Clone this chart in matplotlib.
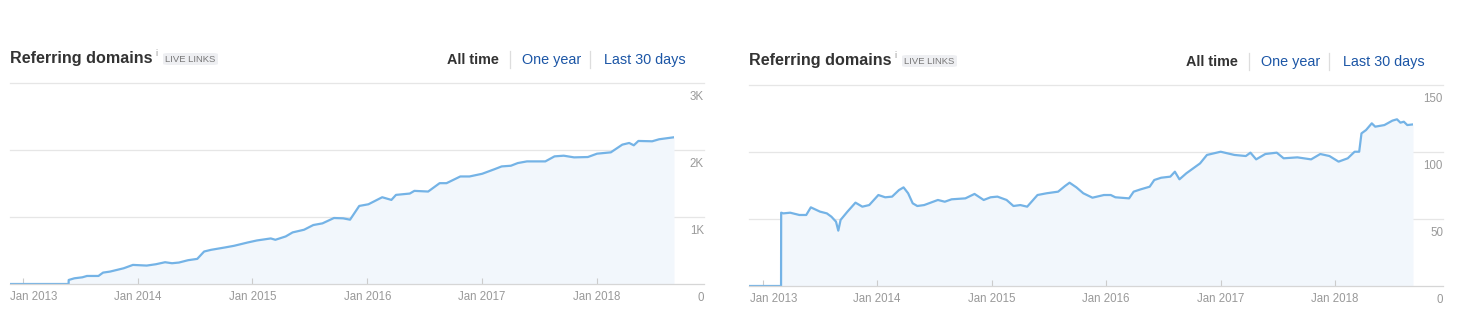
import numpy as np
import matplotlib
matplotlib.use('Agg')
import matplotlib.pyplot as plt
import matplotlib.transforms as mtransforms
from matplotlib.patches import FancyBboxPatch

plt.rcParams['font.family'] = ['Liberation Sans', 'DejaVu Sans']

# left chart: referring domains, all time (decimal year, count)
left_x = [2012.89, 2013.40, 2013.401, 2013.45, 2013.52, 2013.56, 2013.66, 2013.70, 2013.76,
          2013.88, 2013.96, 2014.08, 2014.16, 2014.24, 2014.30, 2014.36, 2014.44, 2014.52,
          2014.58, 2014.64, 2014.76, 2014.84, 2014.96, 2015.04, 2015.16, 2015.20, 2015.29,
          2015.35, 2015.45, 2015.53, 2015.61, 2015.71, 2015.79, 2015.85, 2015.93, 2016.01,
          2016.13, 2016.21, 2016.25, 2016.37, 2016.41, 2016.53, 2016.63, 2016.69, 2016.81,
          2016.89, 2017.00, 2017.11, 2017.17, 2017.25, 2017.31, 2017.39, 2017.55, 2017.63,
          2017.71, 2017.80, 2017.92, 2018.00, 2018.12, 2018.22, 2018.28, 2018.32, 2018.36,
          2018.48, 2018.54, 2018.67]
left_y = [0, 0, 60, 85, 100, 120, 120, 170, 185,
          235, 285, 275, 295, 325, 310, 320, 355, 375,
          485, 510, 545, 570, 620, 650, 680, 660, 710,
          770, 810, 880, 905, 985, 980, 960, 1165, 1190,
          1295, 1255, 1330, 1350, 1390, 1380, 1505, 1505, 1605,
          1605, 1645, 1715, 1755, 1765, 1805, 1830, 1830, 1905,
          1915, 1890, 1895, 1945, 1965, 2080, 2105, 2070, 2135,
          2130, 2160, 2190]

# right chart: referring domains, all time
right_x = [2012.88, 2013.16, 2013.161, 2013.18, 2013.24, 2013.32, 2013.38, 2013.42, 2013.50,
           2013.56, 2013.60, 2013.64, 2013.66, 2013.68, 2013.74, 2013.81, 2013.87, 2013.93,
           2014.01, 2014.07, 2014.13, 2014.19, 2014.23, 2014.27, 2014.31, 2014.35, 2014.41,
           2014.53, 2014.59, 2014.65, 2014.77, 2014.85, 2014.93, 2014.99, 2015.05, 2015.13,
           2015.19, 2015.25, 2015.31, 2015.40, 2015.48, 2015.58, 2015.64, 2015.68, 2015.74,
           2015.80, 2015.88, 2015.98, 2016.04, 2016.08, 2016.20, 2016.24, 2016.30, 2016.38,
           2016.42, 2016.48, 2016.56, 2016.60, 2016.64, 2016.70, 2016.76, 2016.82, 2016.88,
           2017.00, 2017.12, 2017.22, 2017.26, 2017.31, 2017.39, 2017.49, 2017.55, 2017.67,
           2017.79, 2017.87, 2017.95, 2018.03, 2018.11, 2018.17, 2018.21, 2018.23, 2018.27,
           2018.32, 2018.35, 2018.43, 2018.50, 2018.54, 2018.57, 2018.60, 2018.63, 2018.68]
right_y = [0, 0, 54.7, 54.2, 54.7, 53, 53, 58.7, 55.5,
           54.2, 51.7, 48, 41.3, 49.3, 55.5, 62.2, 59.2, 60.4,
           67.9, 66.2, 66.7, 71.6, 73.6, 69.2, 61.7, 59.7, 60.4,
           64.2, 62.9, 64.7, 65.4, 68.7, 64.2, 66.2, 66.7, 64.2,
           59.7, 60.4, 59.2, 67.9, 69.2, 70.4, 74.6, 77.1, 73.6,
           69.2, 65.9, 67.9, 67.9, 66.2, 65.4, 70.4, 72.1, 74.1,
           79.1, 80.8, 81.6, 85.3, 79.6, 84.1, 87.8, 91.5, 97.8,
           100.2, 97.8, 97, 99.5, 94.5, 98.5, 99.5, 95.3, 96,
           94.5, 98.5, 97, 92.8, 95.3, 100.2, 100.2, 113.9, 116.4,
           121.4, 118.9, 120.1, 123.4, 124.4, 121.9, 122.6, 120.1, 120.6]

years = [2013, 2014, 2015, 2016, 2017, 2018]
year_labels = ['Jan %d' % y for y in years]
left_ticks = [0, 1000, 2000, 3000]
left_tick_labels = ['0', '1K', '2K', '3K']
right_ticks = [0, 50, 100, 150]
right_tick_labels = ['0', '50', '100', '150']

W, H = 1462, 332
PW = 664
LINE = '#74b3e6'
FILL = '#f2f7fc'
GRID = '#e6e6e6'
DARK = '#333333'
BLUE = '#1c56a6'
GRAY = '#999999'

fig = plt.figure(figsize=(W / 100, H / 100), dpi=100)


def fx(px):
    return px / W


def fy(py):
    return 1 - py / H


def panel(left, top, bottom, xs, ys, yticks, ylabels, grid_end, head_y):
    ax = fig.add_axes([fx(left), fy(bottom), fx(PW), (bottom - top) / H])
    ax.fill_between(xs, ys, 0, color=FILL, lw=0)
    ax.plot(xs, ys, color=LINE, lw=1.6, solid_joinstyle='round')
    ax.set_xlim(xs[0], xs[-1])
    ax.set_ylim(0, yticks[-1])
    ax.set_yticks([])
    ax.set_xticks(years)
    ax.set_xticklabels(year_labels)
    ax.tick_params(axis='x', direction='in', length=4.5, width=0.8, color='#cccccc',
                   labelcolor=GRAY, labelsize=8.3, pad=5)
    # first label sits flush with the left edge
    first = ax.get_xticklabels()[0]
    first.set_ha('left')
    first.set_transform(first.get_transform() +
                        mtransforms.ScaledTranslation(-13 / 100, 0, fig.dpi_scale_trans))
    for s in ['top', 'left', 'right', 'bottom']:
        ax.spines[s].set_visible(False)
    ax.patch.set_alpha(0)
    xmax = (grid_end - left) / float(PW)
    for v in yticks:
        ax.axhline(v, xmin=0, xmax=xmax, color='#d6d6d6' if v == 0 else GRID,
                   lw=0.9, clip_on=False, zorder=0 if v else 3)
    for v, t in zip(yticks, ylabels):
        ax.annotate(t, xy=(xmax, v), xycoords=ax.get_yaxis_transform(),
                    xytext=(0, -10), textcoords='offset points',
                    ha='right', va='center', fontsize=8.3, color=GRAY)

    # header
    fig.text(fx(left), fy(head_y), 'Referring domains', fontsize=11.6, fontweight='bold',
             color=DARK, ha='left', va='center')
    fig.text(fx(left + 145), fy(head_y - 5), 'i', fontsize=6.5, color=GRAY,
             ha='left', va='center')
    badge = FancyBboxPatch((fx(left + 153), fy(head_y + 6)), fx(55), 12 / H,
                           boxstyle='round,pad=0,rounding_size=0.004',
                           transform=fig.transFigure, fc='#eeeff2', ec='none')
    fig.patches.append(badge)
    fig.text(fx(left + 180.5), fy(head_y), 'LIVE LINKS', fontsize=6.8, color='#777777',
             ha='center', va='center')
    fig.text(fx(left + 437), fy(head_y + 1), 'All time', fontsize=10.4, fontweight='bold',
             color=DARK, ha='left', va='center')
    fig.text(fx(left + 512), fy(head_y + 1), 'One year', fontsize=10.4,
             color=BLUE, ha='left', va='center')
    fig.text(fx(left + 594), fy(head_y + 1), 'Last 30 days', fontsize=10.4,
             color=BLUE, ha='left', va='center')
    for sx in [left + 500, left + 580]:
        fig.add_artist(plt.Line2D([fx(sx), fx(sx)], [fy(head_y + 9), fy(head_y - 8)],
                                  color='#dddddd', lw=0.9, transform=fig.transFigure))
    return ax


panel(10, 83, 284, left_x, left_y, left_ticks, left_tick_labels, 704, 59)
panel(749, 85, 286, right_x, right_y, right_ticks, right_tick_labels, 1443, 61)

fig.savefig('out.png', dpi=100, facecolor='white')
